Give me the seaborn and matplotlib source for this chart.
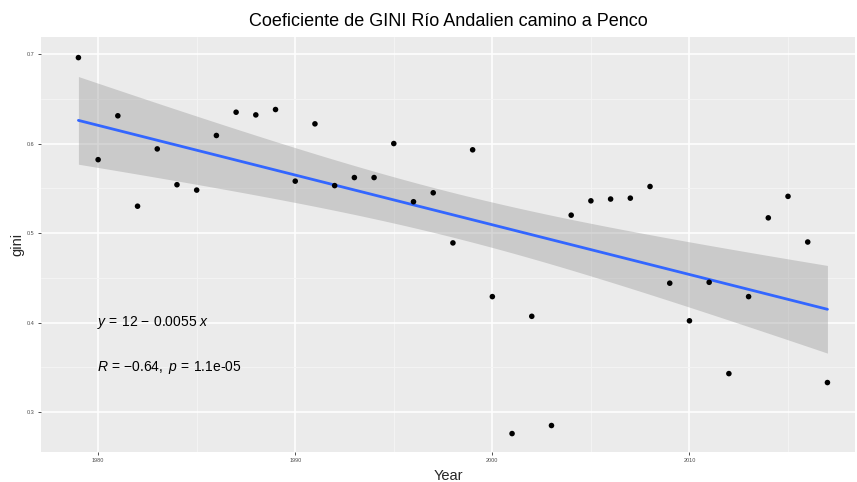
import numpy as np
import pandas as pd
import matplotlib
matplotlib.use("Agg")
import matplotlib.pyplot as plt
import seaborn as sns
from matplotlib.ticker import MultipleLocator

years = list(range(1979, 2018))
gini = [0.696, 0.582, 0.631, 0.530, 0.594, 0.554, 0.548, 0.609, 0.635, 0.632,
        0.638, 0.558, 0.622, 0.553, 0.562, 0.562, 0.600, 0.535, 0.545, 0.489,
        0.593, 0.429, 0.276, 0.407, 0.285, 0.520, 0.536, 0.538, 0.539, 0.552,
        0.444, 0.402, 0.445, 0.343, 0.429, 0.517, 0.541, 0.490, 0.333]
eq_label = r"$y\,=\,12\,-\,0.0055\ x$"
r_label = r"$R\,=\,{-}0.64,\ p\,=\,1.1\mathrm{e}\text{-}05$"

df = pd.DataFrame({"Year": years, "gini": gini})

# linear fit + 95% confidence band (same as geom_smooth(method="lm"))
x = df["Year"].to_numpy(float)
y = df["gini"].to_numpy(float)
n = len(x)
slope, intercept = np.polyfit(x, y, 1)
resid = y - (intercept + slope * x)
s = np.sqrt((resid ** 2).sum() / (n - 2))
xs = np.linspace(x.min(), x.max(), 80)
ys = intercept + slope * xs
se = s * np.sqrt(1 / n + (xs - x.mean()) ** 2 / ((x - x.mean()) ** 2).sum())
tcrit = 2.026  # t(0.975, df=37)
fit = pd.DataFrame({"Year": xs, "gini": ys})

sns.set_theme(style="darkgrid", rc={"axes.facecolor": "#EBEBEB",
                                    "grid.color": "white"})
plt.rcParams["font.family"] = ["Liberation Sans", "DejaVu Sans"]
plt.rcParams["mathtext.fontset"] = "custom"
plt.rcParams["mathtext.rm"] = "Liberation Sans"
plt.rcParams["mathtext.it"] = "Liberation Sans:italic"

fig = plt.figure(figsize=(8.57, 4.82), dpi=100)
ax = fig.add_axes([0.0478, 0.0622, 0.9499, 0.861])

ax.fill_between(xs, ys - tcrit * se, ys + tcrit * se, color="#999999",
                alpha=0.4, linewidth=0, zorder=2)
sns.lineplot(data=fit, x="Year", y="gini", color="#3366FF", linewidth=2,
             ax=ax, zorder=3)
sns.scatterplot(data=df, x="Year", y="gini", color="black", s=16,
                edgecolor="none", ax=ax, zorder=4)

ax.text(1979.95, 0.40, eq_label, fontsize=10, ha="left", va="center",
        color="black")
ax.text(1979.95, 0.35, r_label, fontsize=10, ha="left", va="center",
        color="black")

ax.set_xlim(1977.1, 2018.4)
ax.set_ylim(0.2554, 0.719)
ax.xaxis.set_major_locator(MultipleLocator(10))
ax.xaxis.set_minor_locator(MultipleLocator(5))
ax.yaxis.set_major_locator(MultipleLocator(0.1))
ax.yaxis.set_minor_locator(MultipleLocator(0.05))
ax.grid(which="major", color="white", linewidth=1.1)
ax.grid(which="minor", color="#F5F5F5", linewidth=0.6)
ax.set_xticks([1980, 1990, 2000, 2010])
ax.set_xticklabels(["1980", "1990", "2000", "2010"])
ax.set_yticks([0.3, 0.4, 0.5, 0.6, 0.7])
ax.set_yticklabels(["0.3", "0.4", "0.5", "0.6", "0.7"])
ax.tick_params(axis="both", which="major", labelsize=4, colors="#333333",
               labelcolor="#4D4D4D", length=2.5, width=0.6, pad=2,
               bottom=True, left=True)
ax.tick_params(which="minor", length=0)
for sp in ax.spines.values():
    sp.set_visible(False)

ax.set_xlabel("Year", fontsize=10.5, labelpad=4)
ax.set_ylabel("gini", fontsize=10.5, labelpad=2)
ax.set_title("Coeficiente de GINI Río Andalien camino a Penco", fontsize=13,
             color="black", pad=8)

fig.savefig("out.png", dpi=100)
